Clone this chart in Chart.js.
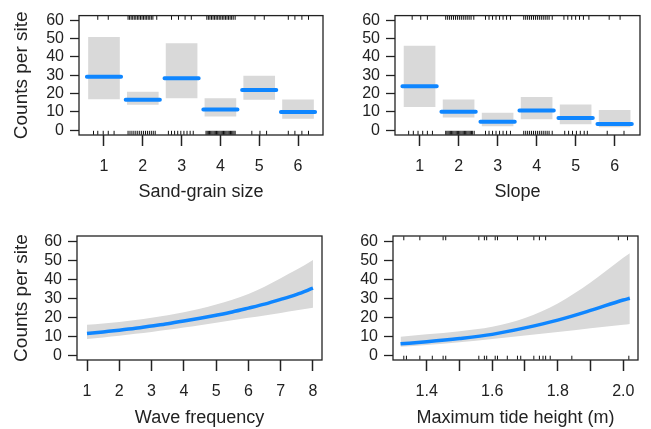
<!DOCTYPE html>
<html>
<head>
<meta charset="utf-8">
<script src="https://cdn.jsdelivr.net/npm/chart.js@4.4.1/dist/chart.umd.min.js"></script>
<style>
body{margin:0;background:#fff;width:651px;height:429px;overflow:hidden;position:relative;}
canvas{position:absolute;}
</style>
</head>
<body>
<canvas id="cSand" width="330" height="216" style="left:0;top:0"></canvas>
<canvas id="cSlope" width="321" height="216" style="left:330px;top:0"></canvas>
<canvas id="cWave" width="330" height="213" style="left:0;top:216px"></canvas>
<canvas id="cTide" width="321" height="213" style="left:330px;top:216px"></canvas>
<script>

// ---- data ----
var categories = [1, 2, 3, 4, 5, 6];
var yTicks = [0, 10, 20, 30, 40, 50, 60];

var sandFit   = [29.1, 16.6, 28.4, 11.3, 21.9, 9.9];
var sandLower = [17.1, 14.1, 17.6, 7.6, 16.8, 6.4];
var sandUpper = [50.7, 20.8, 47.3, 17.3, 29.5, 16.6];
var sandTopRug = [0.84, 1.11,
  1.62, 1.66, 1.70, 1.74, 1.78, 1.82, 1.86, 1.90, 1.94, 1.98, 2.02, 2.06, 2.10, 2.14, 2.18, 2.22, 2.26, 2.36,
  2.74, 2.92, 3.09, 3.25,
  3.65, 3.69, 3.73, 3.77, 3.81, 3.85, 3.89, 3.93, 3.97, 4.01, 4.05, 4.09, 4.13, 4.17, 4.21, 4.25, 4.29, 4.33, 4.38,
  4.89, 5.13,
  5.75, 5.92, 6.10, 6.27];
var sandBottomRug = [0.73, 0.84, 0.98, 1.11, 1.26,
  1.62, 1.67, 1.72, 1.77, 1.82, 1.87, 1.92, 1.97, 2.02, 2.07, 2.12, 2.17, 2.22, 2.27, 2.32,
  2.66, 2.74, 2.82, 2.90, 2.98, 3.06, 3.14, 3.22, 3.30,
  3.63, 3.66, 3.69, 3.72, 3.75, 3.78, 3.81, 3.84, 3.87, 3.90, 3.93, 3.96, 3.99, 4.02, 4.05, 4.08, 4.11, 4.14, 4.17, 4.20, 4.23, 4.26, 4.29, 4.32, 4.35, 4.38,
  4.81, 5.02, 5.19,
  5.75, 5.92, 6.10, 6.27];

var slopeFit   = [24.0, 10.1, 4.6, 10.8, 6.7, 3.4];
var slopeLower = [12.9, 7.1, 2.3, 6.2, 3.5, 1.8];
var slopeUpper = [45.9, 16.6, 9.4, 18.0, 13.9, 10.8];
var slopeTopRug = [0.81, 1.03, 1.20,
  1.67, 1.72, 1.77, 1.82, 1.87, 1.92, 1.97, 2.02, 2.07, 2.12, 2.17, 2.22, 2.27, 2.32, 2.39,
  2.69, 2.78, 2.87, 2.96, 3.05, 3.14, 3.23, 3.33,
  3.67, 3.72, 3.77, 3.82, 3.87, 3.92, 3.97, 4.02, 4.07, 4.12, 4.17, 4.22, 4.27, 4.32, 4.40,
  4.70, 4.80, 4.90, 5.00, 5.10, 5.20, 5.34,
  5.86, 6.14];
var slopeBottomRug = [0.72, 0.84, 0.96, 1.08, 1.20, 1.33,
  1.67, 1.70, 1.73, 1.76, 1.79, 1.82, 1.85, 1.88, 1.91, 1.94, 1.97, 2.00, 2.03, 2.06, 2.09, 2.12, 2.15, 2.18, 2.21, 2.24, 2.27, 2.30, 2.33, 2.36, 2.40,
  2.69, 2.78, 2.87, 2.96, 3.05, 3.14, 3.23, 3.33,
  3.67, 3.72, 3.77, 3.82, 3.87, 3.92, 3.97, 4.02, 4.07, 4.12, 4.17, 4.22, 4.27, 4.32, 4.40,
  4.72, 4.82, 4.92, 5.02, 5.12, 5.22, 5.30,
  5.81, 6.24];

var waveX     = [1, 1.5, 2, 2.5, 3, 3.5, 4, 4.5, 5, 5.5, 6, 6.5, 7, 7.5, 8];
var waveFit   = [11.6, 12.5, 13.4, 14.4, 15.6, 16.8, 18.2, 19.7, 21.3, 23.0, 25.0, 27.1, 29.6, 32.3, 35.5];
var waveUpper = [16.2, 16.9, 17.7, 18.8, 20.0, 21.3, 22.9, 24.7, 26.9, 29.4, 32.5, 36.3, 40.8, 45.3, 50.4];
var waveLower = [8.7, 9.6, 10.5, 11.5, 12.5, 13.6, 14.8, 16.0, 17.3, 18.6, 19.9, 21.2, 22.5, 23.9, 25.2];
var waveTicks = [1, 2, 3, 4, 5, 6, 7, 8];

var tideX     = [1.32, 1.4, 1.5, 1.6, 1.7, 1.8, 1.9, 2.0, 2.02];
var tideFit   = [6.2, 7.3, 9.0, 11.2, 14.6, 18.7, 23.8, 29.3, 30.2];
var tideUpper = [10.0, 11.2, 12.9, 15.2, 19.8, 27.5, 38.5, 51.5, 53.9];
var tideLower = [4.7, 5.6, 7.0, 8.7, 10.6, 12.4, 14.4, 16.3, 16.7];
var tideTicks = [1.4, 1.5, 1.6, 1.7, 1.8, 1.9, 2.0];
var tideTickLabels = ['1.4', '', '1.6', '', '1.8', '', '2.0'];
var tideTopRug = [1.330, 1.379, 1.450, 1.458, 1.559, 1.576, 1.583, 1.609, 1.616, 1.677, 1.727, 1.744, 1.763, 1.985, 2.013];
var tideBottomRug = [1.330, 1.338, 1.379, 1.417, 1.450, 1.458, 1.559, 1.576, 1.583, 1.609, 1.616, 1.646, 1.677, 1.687,
  1.727, 1.744, 1.755, 1.763, 1.777, 1.843, 2.017];

// ---- styling ----
var azul = '#0f86ff';
var gris = '#d9d9d9';
var tinta = '#222';
var fuente = "'Liberation Sans', Arial, sans-serif";

var cajaPlugin = {
  id: 'caja',
  afterDraw: function(chart) {
    var a = chart.chartArea;
    var ctx = chart.ctx;
    ctx.save();
    ctx.strokeStyle = tinta;
    ctx.lineWidth = 1.3;
    ctx.strokeRect(a.left, a.top, a.right - a.left, a.bottom - a.top);
    ctx.restore();
  }
};

function rugDataset(valores, y) {
  return {
    type: 'line', showLine: false, order: 1,
    data: valores.map(function(v) { return {x: v, y: y}; }),
    pointStyle: 'line', rotation: 90, pointRadius: 2, pointHoverRadius: 2,
    pointBorderWidth: 1, pointBorderColor: '#111', borderColor: '#111'
  };
}

function factorDatasets(fit, lower, upper, topRug, bottomRug, yMin, yMax) {
  var segmentos = [];
  categories.forEach(function(c, i) {
    segmentos.push({x: c - 0.44, y: fit[i]});
    segmentos.push({x: c + 0.44, y: fit[i]});
    segmentos.push({x: c + 0.5, y: null});
  });
  return [
    {type: 'line', order: 0, data: segmentos, borderColor: azul, borderWidth: 4,
     borderCapStyle: 'round', pointRadius: 0, spanGaps: false},
    rugDataset(topRug, yMax - 1.2),
    rugDataset(bottomRug, yMin + 1.2),
    {type: 'bar', order: 2, data: categories.map(function(c, i) { return {x: c, y: [lower[i], upper[i]]}; }),
     backgroundColor: gris, borderWidth: 0, barThickness: 31}
  ];
}

function curveDatasets(xs, fit, lower, upper) {
  function pts(arr) { return xs.map(function(x, i) { return {x: x, y: arr[i]}; }); }
  return [
    {type: 'line', order: 0, data: pts(fit), borderColor: azul, borderWidth: 3.5,
     pointRadius: 0, cubicInterpolationMode: 'monotone'},
    {type: 'line', order: 2, data: pts(upper), borderWidth: 0, borderColor: gris, pointRadius: 0,
     fill: '+1', backgroundColor: gris, cubicInterpolationMode: 'monotone'},
    {type: 'line', order: 2, data: pts(lower), borderWidth: 0, borderColor: gris, pointRadius: 0,
     fill: false, cubicInterpolationMode: 'monotone'}
  ];
}

// geo: canvas position/size and target plot box in page pixels
function crearPanel(id, geo, datasets, eje) {
  var w = geo.w, h = geo.h;
  var areaL = geo.x0 - geo.left, areaR = geo.x1 - geo.left;
  var areaT = geo.y0 - geo.top, areaB = geo.y1 - geo.top;
  var xAlto = h - areaB;
  var tituloPad = (h - (geo.titleY - geo.top)) - 10.8;

  return new Chart(document.getElementById(id).getContext('2d'), {
    type: 'line',
    data: {datasets: datasets},
    options: {
      responsive: false,
      animation: false,
      layout: {padding: {left: 0, right: w - areaR, top: areaT, bottom: 0}},
      plugins: {legend: {display: false}, tooltip: {enabled: false}},
      scales: {
        x: {
          type: 'linear', min: eje.xMin, max: eje.xMax, offset: false,
          afterBuildTicks: function(s) { s.ticks = eje.xTicks.map(function(v) { return {value: v}; }); },
          afterFit: function(s) { s.height = xAlto; },
          ticks: {
            autoSkip: false, maxRotation: 0, padding: 11, color: tinta,
            font: {family: fuente, size: 16},
            callback: function(v, i) { return eje.xLabels ? eje.xLabels[i] : String(v); }
          },
          grid: {drawOnChartArea: false, tickLength: 11, tickWidth: 1.5, tickColor: tinta, offset: false},
          border: {display: false},
          title: {display: true, text: eje.xTitle, color: tinta, font: {family: fuente, size: 18},
                  padding: {top: 0, bottom: tituloPad}}
        },
        y: {
          type: 'linear', min: eje.yMin, max: eje.yMax,
          afterBuildTicks: function(s) { s.ticks = yTicks.map(function(v) { return {value: v}; }); },
          afterFit: function(s) { s.width = areaL; },
          ticks: {autoSkip: false, padding: 6, color: tinta, font: {family: fuente, size: 16}},
          grid: {drawOnChartArea: false, tickLength: 9, tickWidth: 1.3, tickColor: tinta},
          border: {display: false},
          title: {display: !!eje.yTitle, text: eje.yTitle || '', color: tinta,
                  font: {family: fuente, size: 19}, padding: {top: 10, bottom: 0}}
        }
      }
    },
    plugins: [cajaPlugin]
  });
}

var sandChart = crearPanel('cSand',
  {left: 0, top: 0, w: 330, h: 216, x0: 79, x1: 323, y0: 12, y1: 135, titleY: 192},
  factorDatasets(sandFit, sandLower, sandUpper, sandTopRug, sandBottomRug, -2.6, 62.5),
  {xMin: 0.356, xMax: 6.644, xTicks: categories, xTitle: 'Sand-grain size', yMin: -2.6, yMax: 62.5, yTitle: 'Counts per site'});

var slopeChart = crearPanel('cSlope',
  {left: 330, top: 0, w: 321, h: 216, x0: 395, x1: 640, y0: 12, y1: 135, titleY: 192},
  factorDatasets(slopeFit, slopeLower, slopeUpper, slopeTopRug, slopeBottomRug, -2.6, 62.5),
  {xMin: 0.37, xMax: 6.65, xTicks: categories, xTitle: 'Slope', yMin: -2.6, yMax: 62.5});

var waveChart = crearPanel('cWave',
  {left: 0, top: 216, w: 330, h: 213, x0: 77, x1: 322, y0: 236, y1: 360, titleY: 418.5},
  curveDatasets(waveX, waveFit, waveLower, waveUpper),
  {xMin: 0.69, xMax: 8.28, xTicks: waveTicks, xTitle: 'Wave frequency', yMin: -2.3, yMax: 63, yTitle: 'Counts per site'});

var tideData = curveDatasets(tideX, tideFit, tideLower, tideUpper);
tideData.push(rugDataset(tideTopRug, 63 - 1.2));
tideData.push(rugDataset(tideBottomRug, -2.3 + 1.2));
var tideChart = crearPanel('cTide',
  {left: 330, top: 216, w: 321, h: 213, x0: 393, x1: 638, y0: 236, y1: 360, titleY: 418.5},
  tideData,
  {xMin: 1.297, xMax: 2.045, xTicks: tideTicks, xLabels: tideTickLabels, xTitle: 'Maximum tide height (m)', yMin: -2.3, yMax: 63});

</script>
</body>
</html>
